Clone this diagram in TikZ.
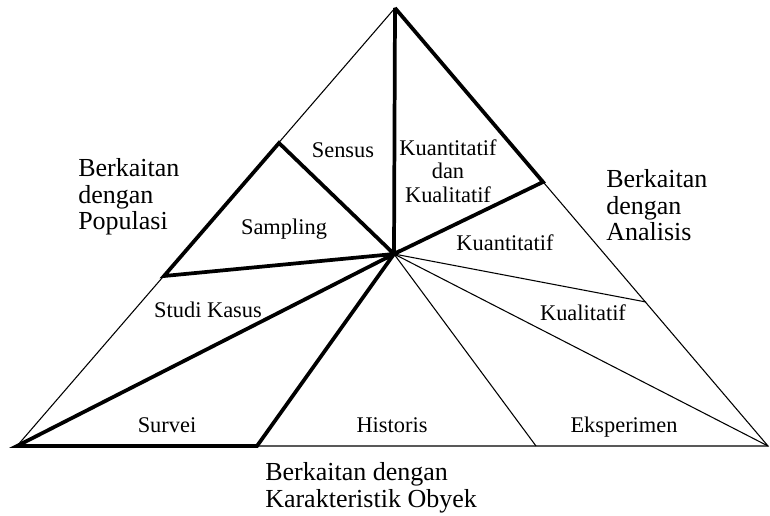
\documentclass[tikz,border=0pt]{standalone}
\usepackage{fontspec}
\setmainfont{Liberation Serif}
\begin{document}
\begin{tikzpicture}[x=0.75pt, y=-0.75pt,
	every node/.style={font=\fontsize{16.8}{17.5}\selectfont, inner sep=0pt},
	edgethin/.style={line width=0.8pt},
	edgethick/.style={line width=2.8pt, line join=miter},
	sidelabel/.style={font=\fontsize{19.5}{20}\selectfont, align=left, anchor=base west}]
	\useasboundingbox (0,0) rectangle (770,516);
	% corners and split points
	\coordinate (top) at (395,8);
	\coordinate (bl) at (17,446);
	\coordinate (br) at (768,446);
	\coordinate (mid) at (394,254);
	\coordinate (samptop) at (279,143);
	\coordinate (sampleft) at (164,276);
	\coordinate (qq) at (543,182);
	\coordinate (kual) at (646,302);
	\coordinate (surv) at (257,446);
	\coordinate (hist) at (536,446);
	% thin lines
	\draw[edgethin] (top) -- (bl) -- (br) -- cycle;
	\draw[edgethin] (mid) -- (hist);
	\draw[edgethin] (mid) -- (kual);
	\draw[edgethin] (mid) -- (br);
	% thick lines
	\draw[edgethick] (top) -- (mid);
	\draw[edgethick] (top) -- (qq) -- (mid);
	\draw[edgethick] (samptop) -- (sampleft) -- (mid) -- cycle;
	\draw[edgethick] (mid) -- (bl) -- (surv) -- cycle;
	% labels
	\node (sensus) at (343,150) {Sensus};
	\node (kk) [align=center] at (448,171) {Kuantitatif\\dan\\Kualitatif};
	\node (sampling) at (284,229) {Sampling};
	\node (kuan) at (505,243) {Kuantitatif};
	\node (kuali) at (583,313) {Kualitatif};
	\node (studi) at (208,310) {Studi Kasus};
	\node (survei) [anchor=base] at (167,432) {Survei};
	\node (historis) [anchor=base] at (392,432) {Historis};
	\node (eksp) [anchor=base] at (624,432) {Eksperimen};
	% base = last line
	\node (populasi) [sidelabel] at (78,230) {Berkaitan\\dengan\\Populasi};
	\node (analisis) [sidelabel] at (606,241) {Berkaitan\\dengan\\Analisis};
	\node (obyek) [sidelabel] at (265,507) {Berkaitan dengan\\Karakteristik Obyek};
\end{tikzpicture}
\end{document}
